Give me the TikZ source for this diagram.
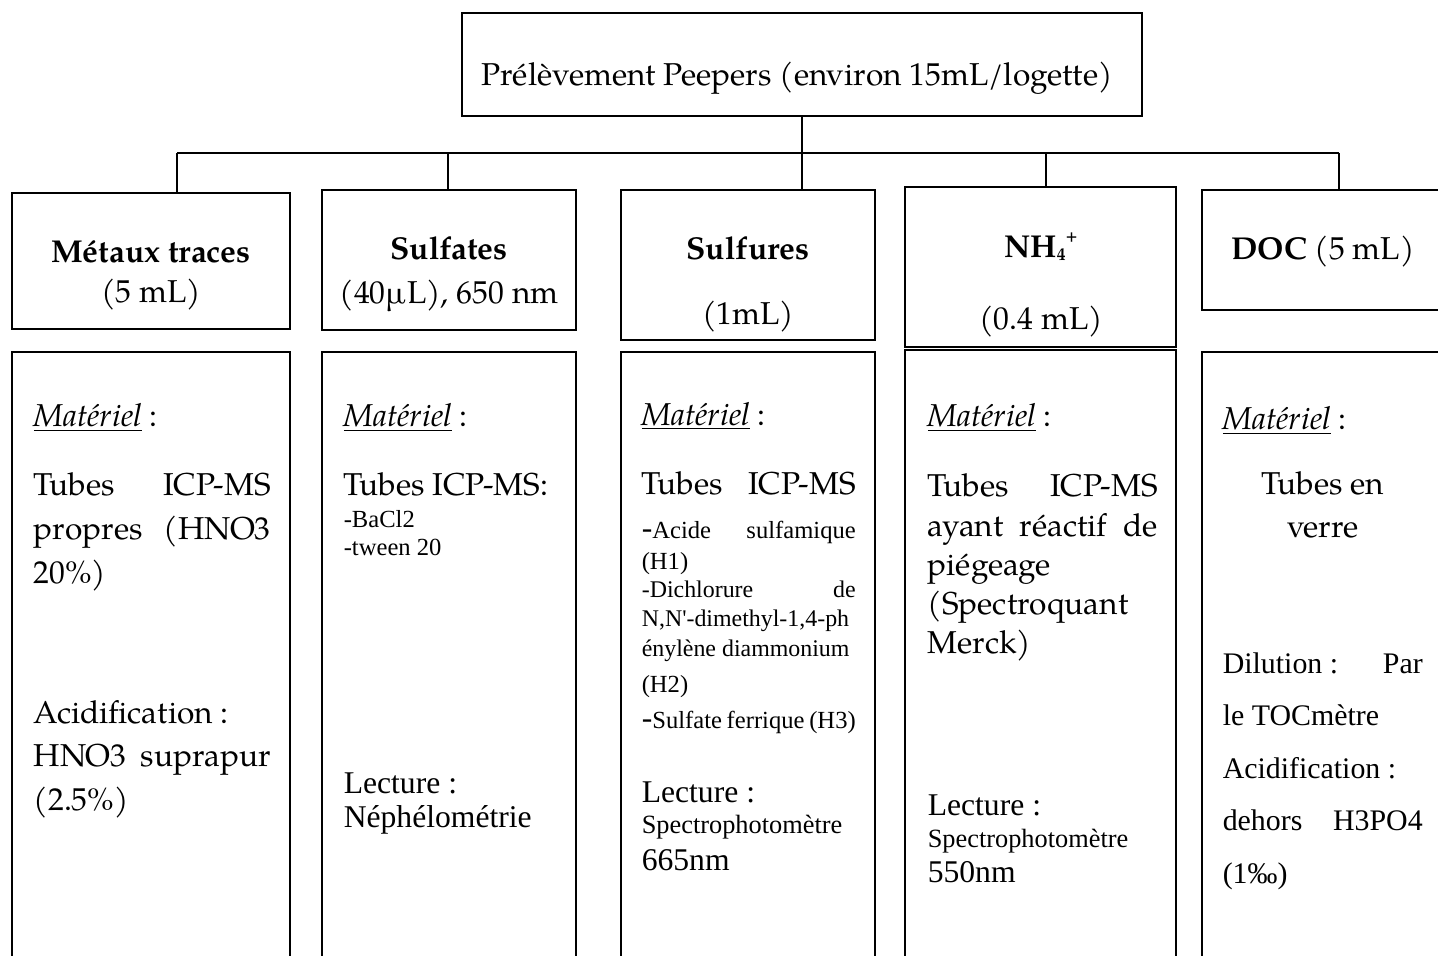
\documentclass[tikz,border=0pt]{standalone}
\usepackage{fontspec}
\setmainfont{texgyrepagella}[Extension=.otf, UprightFont=*-regular, BoldFont=*-bold, ItalicFont=*-italic, BoldItalicFont=*-bolditalic]
\newfontfamily\timesfont{Liberation Serif}
\usetikzlibrary{fit,positioning}

\newcommand{\pal}[2]{\fontsize{#1}{#2}\selectfont}
\newcommand{\tms}[2]{\timesfont\fontsize{#1}{#2}\selectfont}
\newcommand{\mat}{\underline{\textit{Matériel}} :}
\newcommand{\bdash}{{\fontsize{18}{18}\selectfont -}}

\begin{document}
\begin{tikzpicture}[x=0.02cm, y=-0.02cm, line width=0.9pt,
  box/.style={draw, inner sep=0pt},
  hd/.style={anchor=base, inner sep=0pt, font=\pal{18}{22}},
  txt/.style={anchor=base west, inner sep=0pt, align=justify, text width=#1}]
\useasboundingbox (0,0) rectangle (1438,956);
\clip (0,0) rectangle (1438,956);

% top
\node[box, fit={(462,13) (1142,116)}] (top) {};
\node[hd] (title) at (797,86) {Prélèvement Peepers (environ 15mL/logette)};

% headers
\node[box, fit={(12,193) (290,329)}] (hMet) {};
\node[box, fit={(322,190) (576,330)}] (hSulfa) {};
\node[box, fit={(621,190) (875,340)}] (hSulfu) {};
\node[box, fit={(905,187) (1176,347)}] (hNH) {};
\node[box, fit={(1202,190) (1450,310)}] (hDOC) {};

\node[hd] at (151,263) {\textbf{Métaux traces}};
\node[hd] at (151,303) {(5 mL)};
\node[hd] at (449,260) {\textbf{Sulfates}};
\node[hd] at (449,304) {(40µL), 650 nm};
\node[hd] at (748,260) {\textbf{Sulfures}};
\node[hd] at (748,325) {(1mL)};
\node[hd] at (1041,258) {\textbf{NH\raisebox{-0.2ex}{\fontsize{10}{10}\selectfont 4}\raisebox{1.1ex}{\fontsize{9}{9}\selectfont +}}};
\node[hd] at (1041,330) {(0.4 mL)};
\node[hd] at (1323,260) {\textbf{DOC} (5 mL)};

% tree lines
\coordinate (barL) at (177,153);
\coordinate (barR) at (1339,153);
\draw[line width=1.4pt] (barL) -- (barR);
\draw (top.south) -- (top.south |- hSulfu.north);
\foreach \x/\n [count=\i] in {177/hMet, 448/hSulfa, 1046/hNH, 1339/hDOC}{
  \coordinate (d\i) at (\x,153);
  \draw (d\i) -- (d\i |- \n.north);
}

% lower boxes
\node[box, fit={(12,352) (290,980)}] (bMet) {};
\node[box, fit={(322,352) (576,980)}] (bSulfa) {};
\node[box, fit={(621,352) (875,980)}] (bSulfu) {};
\node[box, fit={(905,350) (1176,980)}] (bNH) {};
\node[box, fit={(1202,352) (1450,980)}] (bDOC) {};

% metaux
\node[txt=4.74cm, font=\pal{18}{25}] (m1) at (33,427) {\mat};
\node[txt=4.74cm, font=\pal{18}{25}] (t1) at (33,496) {Tubes ICP-MS\linebreak propres (HNO3\linebreak 20\%)};
\node[txt=4.74cm, font=\pal{18}{25}] (a1) at (33,723) {Acidification :\\ HNO3 suprapur\linebreak (2.5\%)};

% sulfates
\node[txt=4.24cm, font=\pal{18}{25}] (m2) at (343,427) {\mat};
\node[txt=4.24cm, font=\pal{18}{25}] (t2) at (343,496) {Tubes ICP-MS:};
\node[txt=4.24cm, font=\tms{14}{16}] (s2) at (343,527) {-BaCl2\\-tween 20};
\node[txt=4.24cm, font=\tms{18}{19.5}] (l2) at (343,793) {Lecture :\\Néphélométrie};

% sulfures
\node[txt=4.28cm, font=\pal{18}{25}] (m3) at (641,425) {\mat};
\node[txt=4.28cm, font=\pal{18}{25}] (t3) at (641,495) {Tubes\hfill ICP-MS};
\node[txt=4.28cm, font=\tms{14}{18.2}] (s3a) at (641,538) {\bdash Acide sulfamique\linebreak (H1)};
\node[txt=4.28cm, font=\tms{13.6}{17}] (s3b) at (641,597) {-Dichlorure de\linebreak \mbox{N,N'-dimethyl-1,4-ph}\linebreak énylène diammonium};
\node[txt=4.28cm, font=\tms{14}{17}] (s3c) at (641,692) {(H2)};
\node[txt=4.28cm, font=\tms{14}{17}] (s3d) at (641,728) {\bdash Sulfate ferrique (H3)};
\node[txt=4.28cm, font=\tms{18}{20}] (l3) at (641,802) {Lecture :};
\node[txt=4.28cm, font=\tms{15}{18}] (p3) at (641,833) {Spectrophotomètre};
\node[txt=4.28cm, font=\tms{18}{20}] (n3) at (641,870) {665nm};

% NH4
\node[txt=4.6cm, font=\pal{18}{25}] (m4) at (927,427) {\mat};
\node[txt=4.6cm, font=\pal{18}{22.2}] (t4) at (927,497) {Tubes ICP-MS\linebreak ayant réactif de\linebreak piégeage\\(Spectroquant\\Merck)};
\node[txt=4.6cm, font=\tms{18}{20}] (l4) at (927,815) {Lecture :};
\node[txt=4.6cm, font=\tms{15}{18}] (p4) at (927,847) {Spectrophotomètre};
\node[txt=4.6cm, font=\tms{18}{20}] (n4) at (927,882) {550nm};

% DOC
\node[txt=4.0cm, font=\pal{18}{25}] (m5) at (1222,430) {\mat};
\node[hd, align=center, font=\pal{18}{24}] (t5) at (1323,537) {Tubes en\\verre};
\node[txt=4.0cm, font=\tms{17}{29.9}] (d5) at (1222,673) {\mbox{Dilution :} Par\linebreak le TOCmètre\\Acidification :\\\mbox{dehors} H3PO4\linebreak (1‰)};
\end{tikzpicture}
\end{document}
